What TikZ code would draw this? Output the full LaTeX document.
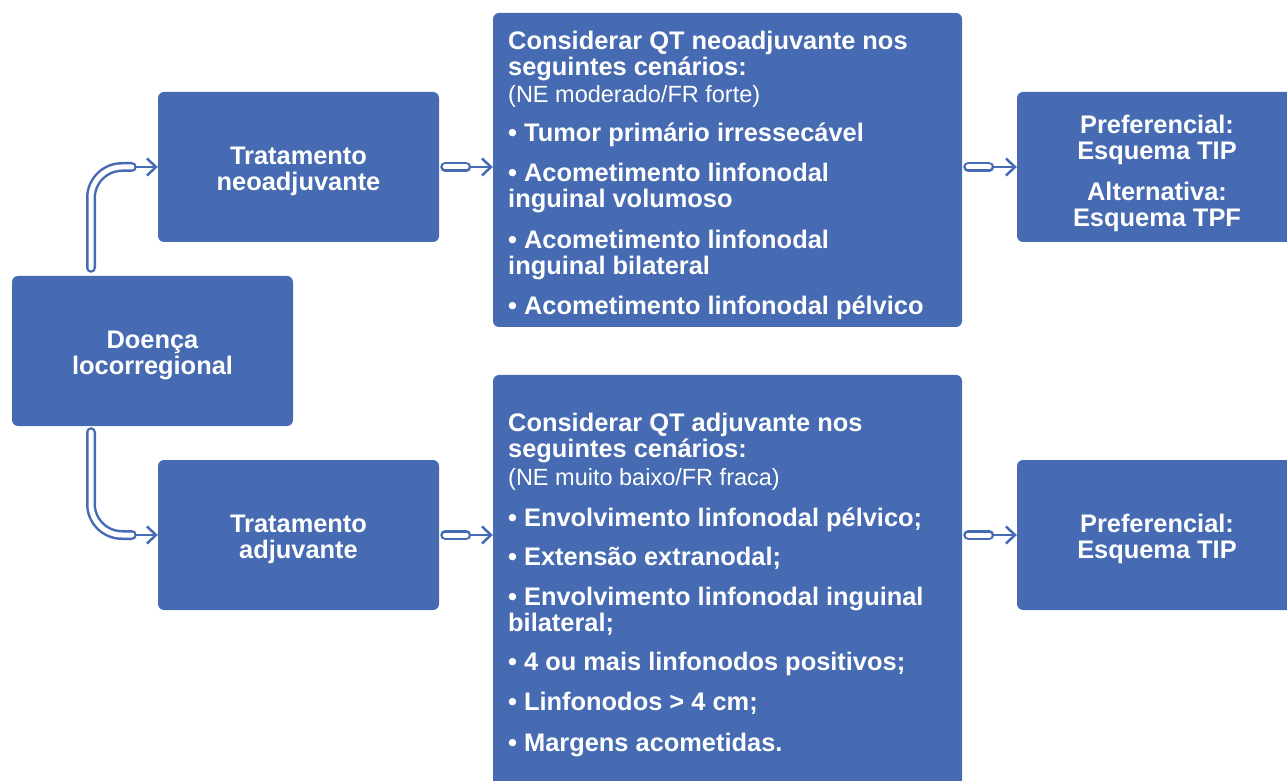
\documentclass[tikz,border=0pt]{standalone}
\usepackage{fontspec}
\setmainfont{Liberation Sans}
\usetikzlibrary{positioning,arrows.meta}
\definecolor{boxblue}{RGB}{70,107,178}
\tikzset{
  box/.style={fill=boxblue, rounded corners=6pt, minimum width=281pt, minimum height=150pt, inner sep=0pt, text=white, align=center, font=\bfseries\fontsize{25.4}{26}\selectfont},
  bigbox/.style={box, minimum width=469pt},
  txt/.style={anchor=north west, inner sep=0pt, text=white, align=left, font=\bfseries\fontsize{25.4}{26}\selectfont},
  pipe/.style={boxblue, line width=2.5pt, double=white, double distance=5pt, line cap=round, rounded corners=31pt},
  arr/.style={boxblue, line width=2.5pt, -{Straight Barb[length=9pt,width=17pt]}}
}
\newcommand{\nota}[1]{{\mdseries\fontsize{23.5}{26}\selectfont #1}}
\newcommand{\topgap}[1]{\rule{0pt}{#1}}
\begin{document}
\begin{tikzpicture}[x=1pt, y=1pt, node distance=368pt, on grid]
\useasboundingbox (0,0) rectangle (1287,780);
\node [box] (doenca) at (152.5,429) {\topgap{27pt}Doença\\locorregional};
\node [box] (neo) at (298.5,613) {\topgap{27pt}Tratamento\\neoadjuvante};
\node [box] (adj) [below = of neo] {\topgap{27pt}Tratamento\\adjuvante};
\node [bigbox, minimum height=314pt] (neoqt) at (727.5,610) {};
\node [bigbox, minimum height=425pt] (adjqt) at (727.5,192.5) {};
\node [box, minimum width=280pt] (neotip) at (1157,613) {\topgap{31pt}Preferencial:\\Esquema TIP\\[15pt]Alternativa:\\Esquema TPF};
\node [box, minimum width=280pt] (adjtip) [below = of neotip] {\topgap{27pt}Preferencial:\\Esquema TIP};
\node [txt] (neotxt) at (508,749) {Considerar QT neoadjuvante nos\\
seguintes cenários:\\[1pt]
\nota{(NE moderado/FR forte)}\\[13pt]
• Tumor primário irressecável\\[14pt]
• Acometimento linfonodal\\
inguinal volumoso\\[15pt]
• Acometimento linfonodal\\
inguinal bilateral\\[14pt]
• Acometimento linfonodal pélvico};
\node [txt] (adjtxt) at (508,367) {Considerar QT adjuvante nos\\
seguintes cenários:\\[2pt]
\nota{(NE muito baixo/FR fraca)}\\[15pt]
• Envolvimento linfonodal pélvico;\\[13pt]
• Extensão extranodal;\\[14pt]
• Envolvimento linfonodal inguinal\\
bilateral;\\[13pt]
• 4 ou mais linfonodos positivos;\\[14pt]
• Linfonodos > 4 cm;\\[15pt]
• Margens acometidas.};
\coordinate (up) at ([xshift=-61.5pt,yshift=8pt]doenca.north);
\coordinate (down) at ([xshift=-61.5pt,yshift=-6pt]doenca.south);
\coordinate (neoin) at ([xshift=-26pt]neo.west);
\coordinate (adjin) at ([xshift=-26pt]adj.west);
\draw [arr] (neoin) -- (neo.west);
\draw [arr] (adjin) -- (adj.west);
\draw [pipe] (up) |- (neoin);
\draw [pipe] (down) |- (adjin);
\draw [arr] ([xshift=27pt]neo.east) -- (neo.east -| neoqt.west);
\draw [pipe] ([xshift=6pt]neo.east) -- ([xshift=27pt]neo.east);
\draw [arr] ([xshift=27pt]adj.east) -- (adj.east -| adjqt.west);
\draw [pipe] ([xshift=6pt]adj.east) -- ([xshift=27pt]adj.east);
\draw [arr] ([xshift=27pt]neo.east -| neoqt.east) -- (neo.east -| neotip.west);
\draw [pipe] ([xshift=6pt]neo.east -| neoqt.east) -- ([xshift=27pt]neo.east -| neoqt.east);
\draw [arr] ([xshift=27pt]adj.east -| adjqt.east) -- (adj.east -| adjtip.west);
\draw [pipe] ([xshift=6pt]adj.east -| adjqt.east) -- ([xshift=27pt]adj.east -| adjqt.east);
\end{tikzpicture}
\end{document}
